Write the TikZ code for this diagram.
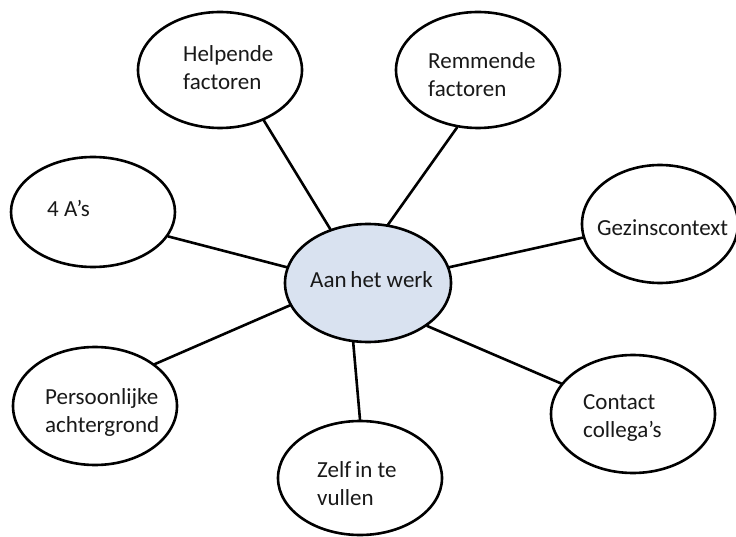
\documentclass[tikz,border=0pt]{standalone}
\usepackage{fontspec}
\setmainfont{Carlito}
\usetikzlibrary{shapes.geometric}
\definecolor{hubblue}{RGB}{217,226,240}
\tikzset{
  bubble/.style={ellipse, draw=black, line width=2.6pt, fill=white, inner sep=0pt},
  hub/.style={bubble, fill=hubblue},
  words/.style={font=\fontsize{23}{28}\selectfont, align=left, anchor=west, inner sep=0pt, text=black!90},
  link/.style={line width=2.6pt, line cap=round}
}
\begin{document}
\begin{tikzpicture}[x=1pt,y=-1pt]
\useasboundingbox (0,0) rectangle (736,537);

% central topic
\node[hub, minimum width=166pt, minimum height=118pt] (c) at (368,283) {};

% surrounding topics
\node[bubble, minimum width=164pt, minimum height=116pt] (help) at (220,70) {};
\node[bubble, minimum width=164pt, minimum height=116pt] (rem)  at (478,70) {};
\node[bubble, minimum width=164pt, minimum height=110pt] (aas)  at (93,212) {};
\node[bubble, minimum width=156pt, minimum height=118pt] (gez)  at (660,224) {};
\node[bubble, minimum width=164pt, minimum height=118pt] (pers) at (95,406) {};
\node[bubble, minimum width=164pt, minimum height=118pt] (con)  at (633,414) {};
\node[bubble, minimum width=164pt, minimum height=114pt] (zelf) at (360,478) {};

% connectors from the centre
\draw[link] (c.125.6) -- (help.-49);
\draw[link] (c.71.6)  -- (rem.-110);
\draw[link] (c.169)   -- (aas.-18);
\draw[link] (c.11.3)  -- (gez.-170);
\draw[link] (c.196.4) -- (pers.35);
\draw[link] (c.-104)  -- (zelf.90);
\draw[link] (c.-36)   -- (con.157.7);

% labels
\node[words] (tc)    at (310,280) {Aan\,het werk};
\node[words] (thelp) at (183,68)  {Helpende\\factoren};
\node[words] (trem)  at (428,75)  {Remmende\\factoren};
\node[words] (taas)  at (47,208)  {4 A’s};
\node[words] (tgez)  at (597,228) {Gezinscontext};
\node[words] (tpers) at (45,412)  {Persoonlijke\\achtergrond};
\node[words] (tcon)  at (583,418) {Contact\\collega’s};
\node[words] (tzelf) at (317,484) {Zelf\,in te\\vullen};
\end{tikzpicture}
\end{document}
